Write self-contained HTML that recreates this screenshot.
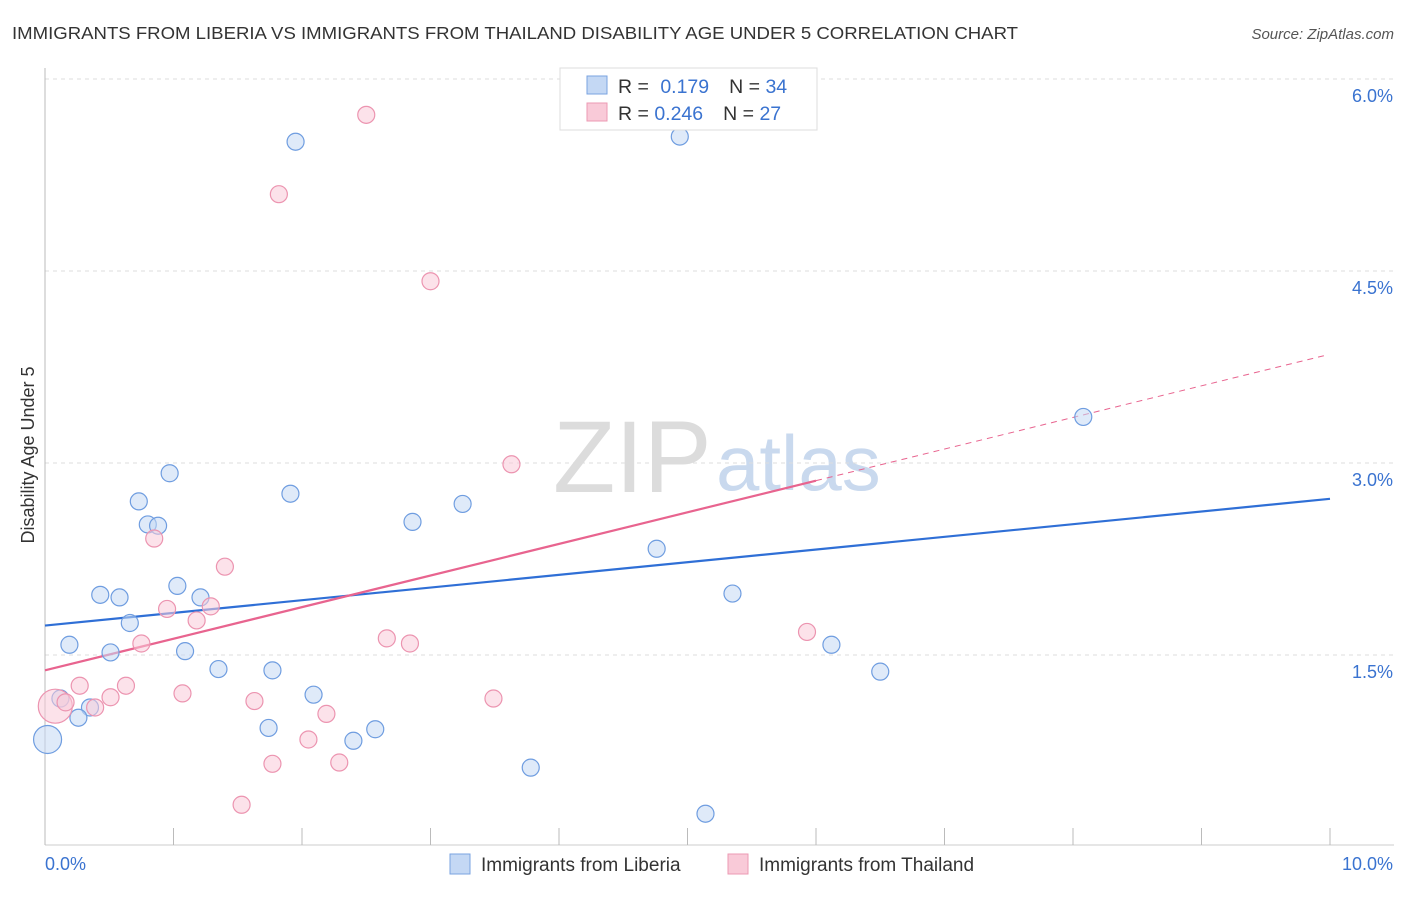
<!DOCTYPE html>
<html><head><meta charset="utf-8"><style>
body{margin:0;background:#fff;font-family:"Liberation Sans",sans-serif;}
svg text{font-family:"Liberation Sans",sans-serif;}
</style></head><body>
<svg id="chart" width="1406" height="892" viewBox="0 0 1406 892">
<text x="12" y="39" font-size="17.5" fill="#333" textLength="1006" lengthAdjust="spacingAndGlyphs">IMMIGRANTS FROM LIBERIA VS IMMIGRANTS FROM THAILAND DISABILITY AGE UNDER 5 CORRELATION CHART</text>
<text x="1394" y="39" font-size="15" fill="#555" font-style="italic" text-anchor="end">Source: ZipAtlas.com</text>
<g>
<text x="553" y="492" font-size="102" fill="#dcdcdc" font-family="Liberation Serif,serif">ZIP</text>
<text x="716" y="490" font-size="78" fill="#c9d9ee">atlas</text>
</g>
<g id="grid"></g>
<g id="axes"></g>
<g id="lines"></g>
<g id="points"></g>
<g>
<rect x="560" y="68" width="257" height="62" fill="#fff" stroke="#ddd"/>
<rect x="587" y="76" width="20" height="18" fill="#c4d8f4" stroke="#7aa3e0"/>
<rect x="587" y="103" width="20" height="18" fill="#f9cad8" stroke="#ec9ab3"/>
<text x="618" y="93" font-size="19.5" fill="#333">R = <tspan fill="#3a73d0" dx="6">0.179</tspan><tspan fill="#333" dx="20">N = </tspan><tspan fill="#3a73d0">34</tspan></text>
<text x="618" y="120" font-size="19.5" fill="#333">R = <tspan fill="#3a73d0">0.246</tspan><tspan fill="#333" dx="20">N = </tspan><tspan fill="#3a73d0">27</tspan></text>
</g>
<g>
<rect x="450" y="854" width="20" height="20" fill="#c4d8f4" stroke="#7aa3e0"/>
<text x="481" y="871" font-size="19" fill="#333">Immigrants from Liberia</text>
<rect x="728" y="854" width="20" height="20" fill="#f9cad8" stroke="#ec9ab3"/>
<text x="759" y="871" font-size="19" fill="#333">Immigrants from Thailand</text>
</g>
<text x="34" y="455" font-size="18" fill="#333" text-anchor="middle" transform="rotate(-90 34 455)">Disability Age Under 5</text>
</svg>
<script>
const yTicks=[1.5,3.0,4.5,6.0];
const yTickLabels=["1.5%","3.0%","4.5%","6.0%"];
const xTickValues=[0,1,2,3,4,5,6,7,8,9,10];
const xEndLabels=["0.0%","10.0%"];
const liberiaX=[1.95,4.94,0.97,0.73,1.91,0.80,0.88,3.25,2.86,4.76,0.43,0.58,1.03,1.21,0.66,5.35,0.19,0.51,1.09,1.35,1.77,6.12,6.50,0.12,0.35,0.26,2.09,1.74,2.57,2.40,3.78,5.14,8.08,0.02];
const liberiaY=[5.51,5.55,2.92,2.70,2.76,2.52,2.51,2.68,2.54,2.33,1.97,1.95,2.04,1.95,1.75,1.98,1.58,1.52,1.53,1.39,1.38,1.58,1.37,1.16,1.09,1.01,1.19,0.93,0.92,0.83,0.62,0.26,3.36,0.84];
const liberiaBig=[33];
const thailandX=[2.50,1.82,3.00,3.63,0.85,1.40,0.95,1.29,1.18,0.75,2.66,2.84,5.93,0.27,0.63,0.51,1.07,1.63,3.49,0.39,2.19,2.05,2.29,1.77,1.53,0.08,0.16];
const thailandY=[5.72,5.10,4.42,2.99,2.41,2.19,1.86,1.88,1.77,1.59,1.63,1.59,1.68,1.26,1.26,1.17,1.20,1.14,1.16,1.09,1.04,0.84,0.66,0.65,0.33,1.10,1.13];
const thailandBig=[25];
const liberiaTrend=[1.73,0.099]; // intercept, slope
const thailandTrend=[1.38,0.247];
const X=v=>45+v*128.5, Y=v=>847-v*128;
const NS="http://www.w3.org/2000/svg";
function mk(parent,tag,attrs){const e=document.createElementNS(NS,tag);for(const k in attrs)e.setAttribute(k,attrs[k]);document.getElementById(parent).appendChild(e);return e;}
yTicks.forEach((t,i)=>{
 const l=mk('grid','line',{x1:45,x2:1394,y1:Y(t),y2:Y(t),stroke:'#ddd','stroke-dasharray':'4,4'});
 
 
 const tx=mk('grid','text',{x:1393,y:Y(t)+23,'font-size':18,fill:'#3a73d0','text-anchor':'end'});
 tx.textContent=yTickLabels[i];
 
 
});
const topG=mk('grid','line',{x1:45,x2:1394,y1:79,y2:79,stroke:'#ddd','stroke-dasharray':'4,4'});
const ax=mk('axes','line',{x1:45,x2:45,y1:68,y2:845,stroke:'#bbb'});


const bx=mk('axes','line',{x1:45,x2:1394,y1:845,y2:845,stroke:'#ccc'});


xTickValues.forEach(v=>{
 const t=mk('axes','line',{x1:X(v),x2:X(v),y1:828,y2:845,stroke:'#bbb'});
 
 
});
const xl0=mk('axes','text',{x:45,y:870,'font-size':18,fill:'#3a73d0'});xl0.textContent=xEndLabels[0];


const xl1=mk('axes','text',{x:1393,y:870,'font-size':18,fill:'#3a73d0','text-anchor':'end'});xl1.textContent=xEndLabels[1];


function pts(xs,ys,big,fill,stroke,name){
 xs.forEach((x,i)=>{
  const c=mk('points','circle',{cx:X(x),cy:Y(ys[i]),r:big.includes(i)?(name==='point-thailand'?17:14):8.5,fill:fill,'fill-opacity':0.55,stroke:stroke,'stroke-width':1.2});
  
  
 });
}
pts(liberiaX,liberiaY,liberiaBig,'#c4d8f4','#6f9de0','point-liberia');
pts(thailandX,thailandY,thailandBig,'#f9cad8','#ec94b0','point-thailand');
const lb=mk('lines','line',{x1:X(0),y1:Y(liberiaTrend[0]),x2:X(10),y2:Y(liberiaTrend[0]+liberiaTrend[1]*10),stroke:'#2f6fd6','stroke-width':2.2});


const tp=mk('lines','line',{x1:X(0),y1:Y(thailandTrend[0]),x2:X(6),y2:Y(thailandTrend[0]+thailandTrend[1]*6),stroke:'#e8648f','stroke-width':2.2});


const td=mk('lines','line',{x1:X(6),y1:Y(thailandTrend[0]+thailandTrend[1]*6),x2:X(9.98),y2:Y(thailandTrend[0]+thailandTrend[1]*9.98),stroke:'#e8648f','stroke-width':1,'stroke-dasharray':'6,5'});


</script>
</body></html>
